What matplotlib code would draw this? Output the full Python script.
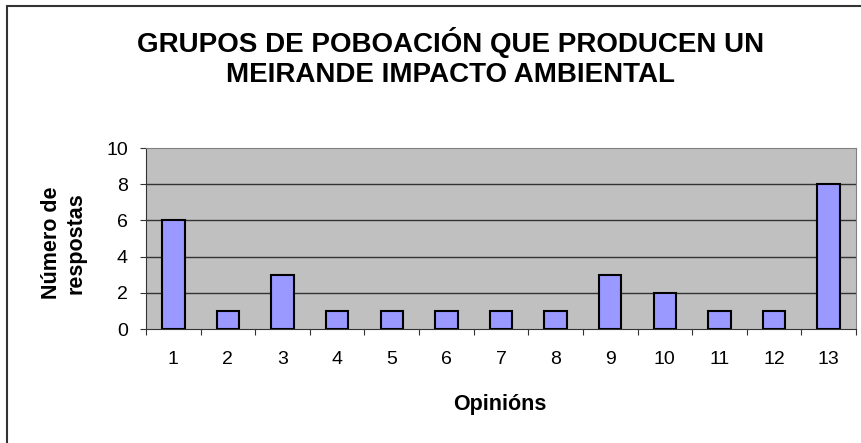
import numpy as np
import matplotlib
matplotlib.use("Agg")
import matplotlib.pyplot as plt
from matplotlib.patches import Rectangle

plt.rcParams["font.family"] = ["Liberation Sans", "DejaVu Sans"]

# respostas por opinión
opinions = [str(i) for i in range(1, 14)]
counts = [6, 1, 3, 1, 1, 1, 1, 1, 3, 2, 1, 1, 8]

W, H = 861, 443
fig = plt.figure(figsize=(W / 100, H / 100), dpi=100)

# chart-area frame
fig.patches.append(Rectangle((7 / W, -0.1), 1.2, 1 - 6 / H + 0.1,
                             transform=fig.transFigure, fill=False,
                             edgecolor="#333333", lw=1.5))

ax = fig.add_axes([146 / W, 1 - 329 / H, (856 - 146) / W, (329 - 148) / H])
ax.set_facecolor("#C0C0C0")

x = np.arange(len(opinions))
ax.bar(x, counts, width=0.41, color="#9999FF", edgecolor="black", lw=1.5, zorder=3)

ax.set_xlim(-0.5, len(opinions) - 0.5)
ax.set_ylim(0, 10)
ax.set_yticks(range(0, 11, 2))
for v in range(2, 10, 2):
    ax.axhline(v, color="#333333", lw=1.0, zorder=1)

# category ticks sit between the bars
ax.set_xticks(np.arange(-0.5, len(opinions), 1.0))
ax.set_xticklabels([])
ax.set_xticks(x, minor=True)
ax.set_xticklabels(opinions, minor=True)
ax.tick_params(axis="x", which="minor", length=0, labelsize=14, pad=16)
ax.tick_params(axis="x", which="major", length=4, color="#333333", direction="out")
ax.tick_params(axis="y", length=4, labelsize=14, color="#333333", direction="out", pad=9)

for side in ("top", "right"):
    ax.spines[side].set_color("#808080")
for side in ("left", "bottom"):
    ax.spines[side].set_color("#333333")

fig.text(500 / W, 1 - 410 / H, "Opinións", ha="center", va="baseline",
         fontsize=15.5, fontweight="bold")
fig.text(64 / W, 1 - 243 / H, "Número de\nrespostas", ha="center", va="center",
         rotation=90, multialignment="center", fontsize=15.5, fontweight="bold",
         linespacing=1.2)

fig.text(451 / W, 1 - 57.5 / H, "GRUPOS DE POBOACIÓN QUE PRODUCEN UN\nMEIRANDE IMPACTO AMBIENTAL",
         ha="center", va="center", fontsize=20, fontweight="bold", linespacing=1.2)

fig.savefig("out.png", dpi=100)
